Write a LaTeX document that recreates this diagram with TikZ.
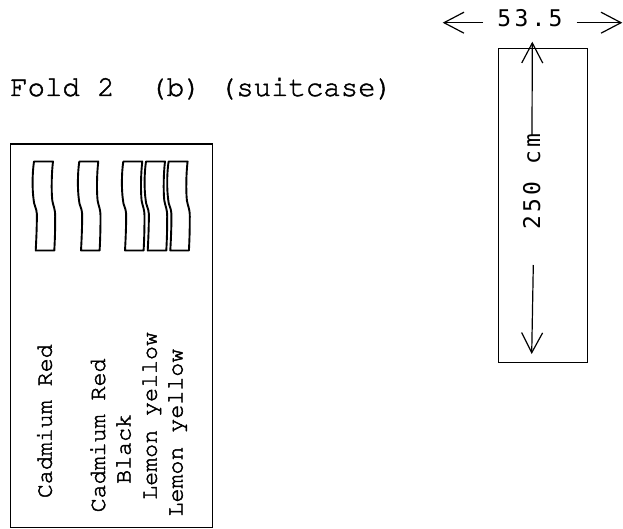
\documentclass[tikz,border=0pt]{standalone}
\usepackage[T1]{fontenc}
\usepackage{fontspec}
\newfontfamily\dvmono[LetterSpace=14]{DejaVu Sans Mono}
\newcommand\courierfont{\fontencoding{T1}\fontfamily{pcr}\selectfont}
\newcommand\hv[1]{\special{pdf:literal 2 Tr 0.45 w}#1\special{pdf:literal 0 Tr}}
\usetikzlibrary{arrows.meta}
\tikzset{
  frame/.style={draw, line width=1.3pt, inner sep=0pt},
  tubeline/.style={draw, line width=1.9pt, line join=round},
  lbl/.style={inner sep=0pt, font=\fontsize{23.3}{27}\courierfont},
  titlelbl/.style={inner sep=0pt, font=\fontsize{29}{32}\courierfont},
  dimlbl/.style={inner sep=0pt, font=\fontsize{23}{27}\selectfont\dvmono},
  dimarrow/.style={-{Straight Barb[length=20pt,width=21pt,line width=1.2pt]}, line width=1.2pt},
  tube/.pic={
    \path[tubeline] (0,0) -- (19,0)
      .. controls (17.5,12) and (17.3,30) .. (18.3,39)
      .. controls (19.3,45) and (21.2,47) .. (21.2,55)
      .. controls (21.2,70) and (20.8,80) .. (20.3,89)
      -- (1.7,89)
      .. controls (2.5,75) and (3,60) .. (2.8,52)
      .. controls (2.5,46) and (-0.2,44) .. (-0.4,38)
      .. controls (-1.8,28) and (-1.8,12) .. (0,0) -- cycle;
  }
}
\begin{document}
\begin{tikzpicture}[x=1pt,y=-1pt]
\useasboundingbox (0,0) rectangle (623,529);

% title
\node[titlelbl, anchor=base west] (title) at (10,96) {\hv{Fold 2\ \ (b) (suitcase)}};

% left box
\node[frame, anchor=north west, minimum width=201.7pt, minimum height=383.4pt] (box) at (10,143.3) {};

% tubes
\pic at (34,161.5) {tube};
\pic at (79.3,161.5) {tube};
\pic at (123.3,161.5) {tube};
\pic at (146,161.5) {tube};
\pic at (168.6,161.5) {tube};

% colour labels
\node[lbl, rotate=90, anchor=base west] (cr1) at (51.7,498.3) {\hv{Cadmium Red}};
\node[lbl, rotate=90, anchor=base west] (cr2) at (105,512.5) {\hv{Cadmium Red}};
\node[lbl, rotate=90, anchor=base west] (blk) at (130.5,484) {\hv{Black}};
\node[lbl, rotate=90, anchor=base west] (ly1) at (156.7,500) {\hv{Lemon yellow}};
\node[lbl, rotate=90, anchor=base west] (ly2) at (182.5,516.7) {\hv{Lemon yellow}};

% right strip
\node[frame, anchor=north west, minimum width=89pt, minimum height=314pt] (strip) at (497.7,47.7) {};

% width dimension
\node[dimlbl, anchor=base] (wlbl) at (530,26.7) {53.5};
\coordinate (wls) at (483,22.7);
\coordinate (wlt) at (442.7,22.7);
\coordinate (wrs) at (576.7,22.7);
\coordinate (wrt) at (622.3,22.7);
\draw[dimarrow] (wls) -- (wlt);
\draw[dimarrow] (wrs) -- (wrt);

% height dimension
\node[dimlbl, rotate=90, anchor=base west] (hlbl) at (540,230) {250 cm};
\coordinate (hus) at (532,135);
\coordinate (hut) at (532.3,41.7);
\coordinate (hds) at (533.3,265);
\coordinate (hdt) at (531.7,354);
\draw[dimarrow] (hus) -- (hut);
\draw[dimarrow] (hds) -- (hdt);
\end{tikzpicture}
\end{document}
